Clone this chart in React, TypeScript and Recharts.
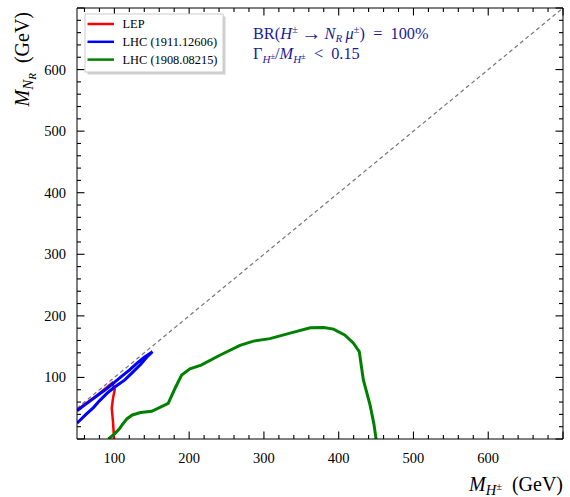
import React from 'react';
import { ComposedChart, Line, XAxis, YAxis, Customized } from 'recharts';

// ---- data ----
const lepCurve = [
  { x: 50, y: 47 }, { x: 60, y: 56 }, { x: 70, y: 65 }, { x: 80, y: 74 },
  { x: 90, y: 84 }, { x: 97, y: 91 }, { x: 100.5, y: 81 }, { x: 98, y: 65 },
  { x: 96.5, y: 50 }, { x: 98, y: 30 }, { x: 99, y: 12 }, { x: 99.5, y: 0 },
];

const lhc1911Curve = [
  { x: 50, y: 46 }, { x: 60, y: 55 }, { x: 70, y: 64 }, { x: 80, y: 73 },
  { x: 90, y: 82 }, { x: 100, y: 92 }, { x: 110, y: 102 }, { x: 120, y: 112 },
  { x: 130, y: 123 }, { x: 140, y: 133 }, { x: 150, y: 141 }, { x: 151, y: 142 },
  { x: 145, y: 135 }, { x: 135, y: 121 }, { x: 125, y: 109 }, { x: 114, y: 96 },
  { x: 100, y: 84 }, { x: 90, y: 74 }, { x: 80, y: 62 }, { x: 72, y: 51 },
  { x: 62, y: 40 }, { x: 52, y: 28 }, { x: 50, y: 26 },
];

const lhc1908Curve = [
  { x: 92, y: 0 }, { x: 100, y: 8 }, { x: 107, y: 17 }, { x: 111, y: 24 },
  { x: 117, y: 33 }, { x: 124, y: 39 }, { x: 135, y: 43 }, { x: 150, y: 45 },
  { x: 172, y: 58 }, { x: 181, y: 82 }, { x: 190, y: 104 }, { x: 201, y: 114 },
  { x: 216, y: 120 }, { x: 241, y: 136 }, { x: 268, y: 152 }, { x: 286, y: 159 },
  { x: 308, y: 163 }, { x: 335, y: 172 }, { x: 362, y: 180.5 }, { x: 380, y: 181 },
  { x: 393, y: 178.5 }, { x: 408, y: 169 }, { x: 419.5, y: 156 }, { x: 427.5, y: 142 },
  { x: 433, y: 96 }, { x: 442, y: 55 }, { x: 447, y: 25 }, { x: 450, y: 0 },
];

const diagonal = [{ x: 50, y: 50 }, { x: 700, y: 700 }];

const xTicks = [60, 80, 100, 120, 140, 160, 180, 200, 220, 240, 260, 280, 300, 320, 340, 360, 380, 400, 420, 440, 460, 480, 500, 520, 540, 560, 580, 600, 620, 640, 660, 680, 700];
const yTicks = [0, 20, 40, 60, 80, 100, 120, 140, 160, 180, 200, 220, 240, 260, 280, 300, 320, 340, 360, 380, 400, 420, 440, 460, 480, 500, 520, 540, 560, 580, 600, 620, 640, 660, 680, 700];
const labeledTicks = [100, 200, 300, 400, 500, 600];

const legendItems = [
  { name: 'LEP', color: '#ff0000' },
  { name: 'LHC (1911.12606)', color: '#0000ff' },
  { name: 'LHC (1908.08215)', color: '#008000' },
];

const X_DOMAIN: [number, number] = [50, 700];
const Y_DOMAIN: [number, number] = [0, 700];

const FONT = '"Liberation Serif", "Times New Roman", "DejaVu Serif", serif';
const ANN = '#1c1c9a';

// chart geometry (axis sizes define the plot rectangle)
const W = 570;
const H = 497;
const LEFT_AXIS_W = 77;
const RIGHT_AXIS_W = 7;
const TOP_AXIS_H = 8;
const BOTTOM_AXIS_H = 58;
const PL = LEFT_AXIS_W;
const PR = W - RIGHT_AXIS_W;
const PT = TOP_AXIS_H;
const PB = H - BOTTOM_AXIS_H;
const sx = (v: number) => PL + ((v - X_DOMAIN[0]) / (X_DOMAIN[1] - X_DOMAIN[0])) * (PR - PL);
const sy = (v: number) => PB - ((v - Y_DOMAIN[0]) / (Y_DOMAIN[1] - Y_DOMAIN[0])) * (PB - PT);

const isMajor = (v: number) => v % 100 === 0;
const tickLen = (v: number) => (isMajor(v) ? 7.5 : 4);

// ---- tick labels ----
const BottomTick = (p: any) => {
  const { x, y, payload } = p;
  const v = payload.value;
  if (!labeledTicks.includes(v)) return <g />;
  return <text x={x} y={y + 24} textAnchor="middle" fontFamily={FONT} fontSize={14.5} fill="#000">{v}</text>;
};
const LeftTick = (p: any) => {
  const { x, y, payload } = p;
  const v = payload.value;
  if (!labeledTicks.includes(v)) return <g />;
  return <text x={x - 11} y={y + 5} textAnchor="end" fontFamily={FONT} fontSize={14.5} fill="#000">{v}</text>;
};

// ---- rich text ----
type Seg = { t: string; size?: number; shift?: number; italic?: boolean };
const Rich = ({ x, y, segs, size, fill, anchor, transform }: any) => {
  let cur = 0;
  return (
    <text x={x} y={y} fontSize={size} fill={fill} textAnchor={anchor || 'start'} transform={transform}
      fontFamily={FONT} style={{ whiteSpace: 'pre' }}>
      {(segs as Seg[]).map((s, i) => {
        const sh = s.shift || 0;
        const dy = sh - cur;
        cur = sh;
        return (
          <tspan key={i} dy={dy} fontSize={s.size || size} fontStyle={s.italic ? 'italic' : 'normal'}>{s.t}</tspan>
        );
      })}
    </text>
  );
};

const Ticks = () => (
  <g>
    {xTicks.map((v) => (
      <g key={'x' + v}>
        <line x1={sx(v)} x2={sx(v)} y1={PB} y2={PB - tickLen(v)} stroke="#000" strokeWidth={1.1} />
        <line x1={sx(v)} x2={sx(v)} y1={PT} y2={PT + tickLen(v)} stroke="#000" strokeWidth={1.1} />
      </g>
    ))}
    {yTicks.map((v) => (
      <g key={'y' + v}>
        <line x1={PL} x2={PL + tickLen(v)} y1={sy(v)} y2={sy(v)} stroke="#000" strokeWidth={1.1} />
        <line x1={PR} x2={PR - tickLen(v)} y1={sy(v)} y2={sy(v)} stroke="#000" strokeWidth={1.1} />
      </g>
    ))}
  </g>
);

const Overlay = () => (
  <g>
    <Ticks />
    {/* legend */}
    <rect x={87.5} y={16.5} width={138} height={58} fill="#b0b0b0" opacity={0.6} />
    <rect x={85} y={14} width={138} height={58} fill="#ffffff" stroke="#cccccc" strokeWidth={1} />
    {legendItems.map((it, i) => (
      <g key={it.name}>
        <line x1={87.5} x2={114} y1={24 + i * 17.8} y2={24 + i * 17.8} stroke={it.color} strokeWidth={2.5} />
        <text x={122.5} y={28.2 + i * 17.8} fontFamily={FONT} fontSize={12.4} fill="#000">{it.name}</text>
      </g>
    ))}
    {/* annotation */}
    <Rich x={253} y={39} size={16.3} fill={ANN} segs={[
      { t: 'BR(' }, { t: 'H', italic: true }, { t: '±', size: 11, shift: -6.5 },
      { t: '\u2009' }, { t: '→', size: 20, shift: 0.5 }, { t: '\u2009' }, { t: 'N', italic: true },
      { t: 'R', italic: true, size: 11, shift: 3 },
      { t: '\u2009' }, { t: 'μ', italic: true }, { t: '±', size: 11, shift: -6.5 }, { t: ')\u2002=\u2002100%' },
    ]} />
    <Rich x={253} y={59} size={16.3} fill={ANN} segs={[
      { t: 'Γ' }, { t: 'H', italic: true, size: 11, shift: 3.5 }, { t: '±', size: 8.5, shift: -0.5 },
      { t: '/' }, { t: 'M', italic: true }, { t: 'H', italic: true, size: 11, shift: 3.5 },
      { t: '±', size: 8.5, shift: -0.5 }, { t: '\u2002<\u20020.15' },
    ]} />
    {/* axis labels */}
    <Rich x={563} y={491} size={20} fill="#000" anchor="end" segs={[
      { t: 'M', italic: true }, { t: 'H', italic: true, size: 14.5, shift: 4 },
      { t: '±', size: 10.5, shift: -1.5 }, { t: '\u2002(GeV)' },
    ]} />
    <Rich x={29} y={12} size={20} fill="#000" anchor="end" transform="rotate(-90, 29, 12)" segs={[
      { t: 'M', italic: true }, { t: 'N', italic: true, size: 15, shift: 4 },
      { t: 'R', italic: true, size: 11, shift: 7 }, { t: '\u2002(GeV)' },
    ]} />
  </g>
);

const axisLineStyle = { stroke: '#000', strokeWidth: 1 };

export default function App() {
  return (
    <div style={{ position: 'absolute', left: 0, top: 0, width: W, height: H, background: '#fff' }}>
      <ComposedChart width={W} height={H} margin={{ top: 0, right: 0, bottom: 0, left: 0 }}>
        <XAxis xAxisId="b" dataKey="x" type="number" orientation="bottom" domain={X_DOMAIN} allowDataOverflow
          ticks={xTicks} interval={0} height={BOTTOM_AXIS_H} tickSize={0} tickMargin={0} tickLine={false}
          axisLine={axisLineStyle} tick={(p: any) => <BottomTick {...p} />} />
        <XAxis xAxisId="t" dataKey="x" type="number" orientation="top" domain={X_DOMAIN} allowDataOverflow
          ticks={xTicks} interval={0} height={TOP_AXIS_H} tickSize={0} tickMargin={0} tickLine={false}
          axisLine={axisLineStyle} tick={false} />
        <YAxis yAxisId="l" dataKey="y" type="number" orientation="left" domain={Y_DOMAIN} allowDataOverflow
          ticks={yTicks} interval={0} width={LEFT_AXIS_W} tickSize={0} tickMargin={0} tickLine={false}
          axisLine={axisLineStyle} tick={(p: any) => <LeftTick {...p} />} />
        <YAxis yAxisId="r" dataKey="y" type="number" orientation="right" domain={Y_DOMAIN} allowDataOverflow
          ticks={yTicks} interval={0} width={RIGHT_AXIS_W} tickSize={0} tickMargin={0} tickLine={false}
          axisLine={axisLineStyle} tick={false} />

        <Line xAxisId="t" yAxisId="r" data={diagonal} dataKey="y" type="linear" stroke="#777777" strokeWidth={1.2}
          strokeDasharray="4 3" dot={false} isAnimationActive={false} />
        <Line xAxisId="b" yAxisId="l" data={lepCurve} dataKey="y" type="linear" stroke="#ff0000" strokeWidth={2.5}
          dot={false} isAnimationActive={false} />
        <Line xAxisId="b" yAxisId="l" data={lhc1911Curve} dataKey="y" type="linear" stroke="#0000ff" strokeWidth={3}
          dot={false} isAnimationActive={false} />
        <Line xAxisId="b" yAxisId="l" data={lhc1908Curve} dataKey="y" type="linear" stroke="#008000" strokeWidth={3}
          dot={false} isAnimationActive={false} />
        <Customized component={Overlay} />
      </ComposedChart>
    </div>
  );
}
